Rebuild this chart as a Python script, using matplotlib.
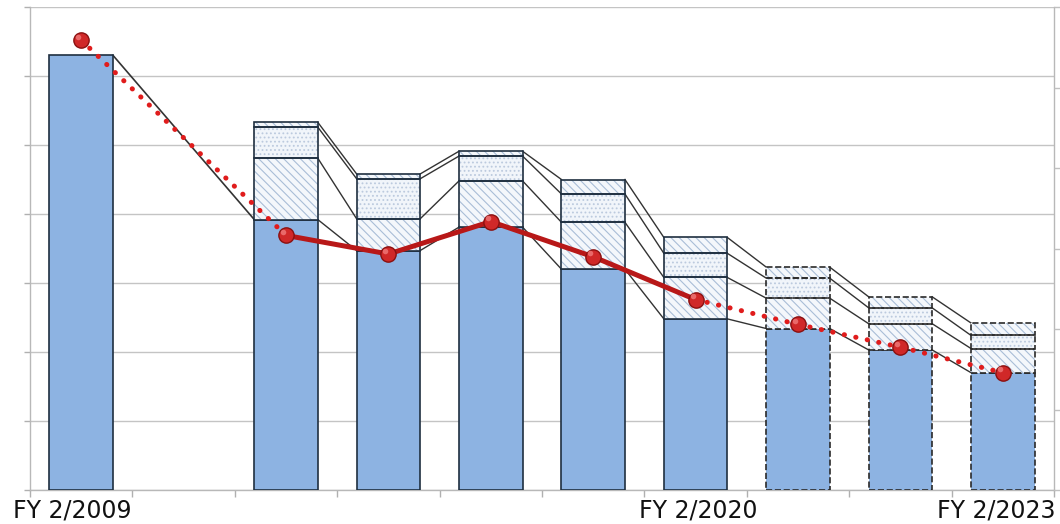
import numpy as np
import matplotlib
matplotlib.use("Agg")
import matplotlib.pyplot as plt
import matplotlib.transforms as mtransforms

# ---- data (y in gridline units) ----
slots = list(range(10))
tick_labels = ["FY 2/2009", "", "", "", "", "", "FY 2/2020", "", "", "FY 2/2023"]
base = [6.30, np.nan, 3.92, 3.47, 3.81, 3.20, 2.48, 2.34, 2.03, 1.70]
layer_a = [0, np.nan, 0.89, 0.46, 0.67, 0.68, 0.60, 0.44, 0.38, 0.35]
layer_b = [0, np.nan, 0.45, 0.58, 0.36, 0.41, 0.35, 0.29, 0.23, 0.19]
layer_c = [0, np.nan, 0.07, 0.07, 0.07, 0.21, 0.23, 0.16, 0.16, 0.18]
line_vals = [6.52, np.nan, 3.69, 3.42, 3.89, 3.38, 2.76, 2.40, 2.07, 1.70]
forecast = [False, False, False, False, False, False, False, True, True, True]

plt.rcParams['hatch.linewidth'] = 0.8

fig = plt.figure(figsize=(10.6, 5.24), dpi=100)
ax = fig.add_axes([30/1060, 34/524, 1024/1060, 483/524])

W = 0.62
blue = '#8db3e2'
edge_solid = '#1f2f40'
layers = [
    (layer_a, '#f4f7fb', '#a9bdd7', '\\\\\\\\'),
    (layer_b, '#f1f5fa', '#bccade', '....'),
    (layer_c, '#f4f7fb', '#a9bdd7', '\\\\\\\\'),
]

valid = [i for i in slots if not np.isnan(base[i])]
bounds = {}
for i in valid:
    ls = '--' if forecast[i] else '-'
    ec = '#2a2a2a' if forecast[i] else edge_solid
    b = base[i]
    tops = [b]
    ax.bar(i, b, width=W, color=blue, edgecolor=ec, linewidth=1.2, linestyle=ls, zorder=3)
    bottom = b
    for vals, fc, hc, h in layers:
        hgt = vals[i]
        if hgt > 0:
            ax.bar(i, hgt, bottom=bottom, width=W, color=fc, edgecolor=hc, hatch=h,
                   linewidth=0, zorder=3)
            ax.bar(i, hgt, bottom=bottom, width=W, fill=False, edgecolor=ec,
                   linewidth=1.2, linestyle=ls, zorder=3.5)
        bottom += hgt
        tops.append(bottom)
    bounds[i] = tops

# connector (series) lines
for k in range(len(valid) - 1):
    i, j = valid[k], valid[k + 1]
    if j - i > 1:
        ax.plot([i + W/2, j - W/2], [bounds[i][0], bounds[j][0]], color='#333333', lw=1.2, zorder=2.5)
        continue
    for t0, t1 in zip(bounds[i], bounds[j]):
        ax.plot([i + W/2, j - W/2], [t0, t1], color='#333333', lw=1.0, zorder=2.5)

# line series
lx = np.array(slots, dtype=float)
ly = np.array(line_vals, dtype=float)
solid_idx = [2, 3, 4, 5, 6]
ax.plot(lx[solid_idx], ly[solid_idx], color='#b81818', lw=3.6, zorder=5, solid_capstyle='round')
for seg in ([0, 2], [6, 7, 8, 9]):
    ax.plot(lx[seg], ly[seg], color='#e01c1c', lw=3.6, linestyle=(0, (0.05, 2.3)),
            dash_capstyle='round', zorder=5)
pts = [i for i in slots if not np.isnan(line_vals[i])]
ax.plot(lx[pts], ly[pts], linestyle='none', marker='o', markersize=11,
        markerfacecolor='#d02828', markeredgecolor='#8a1010', markeredgewidth=1.0, zorder=6)
ax.plot(lx[pts] - 0.03, ly[pts] + 0.05, linestyle='none', marker='o', markersize=4,
        markerfacecolor='#f07a7a', markeredgewidth=0, alpha=0.8, zorder=6.5)

# axes styling
ax.set_xlim(-0.5, 9.5)
ax.set_ylim(0, 7)
ax.set_yticks(range(8))
ax.set_yticklabels([])
ax.yaxis.grid(True, color='#c4c4c4', lw=1.0)
ax.set_axisbelow(True)
for s in ['left', 'bottom', 'right']:
    ax.spines[s].set_color('#b8b8b8')
    ax.spines[s].set_linewidth(1.0)
ax.spines['top'].set_visible(False)
ax.tick_params(axis='y', direction='out', length=4, color='#b0b0b0', width=1)

ax.set_xticks(slots)
ax.set_xticklabels(tick_labels, fontsize=17, fontfamily='DejaVu Sans', color='#111111')
ax.set_xticks(np.arange(-0.5, 10, 1), minor=True)
ax.tick_params(axis='x', which='major', length=0, pad=6)
ax.tick_params(axis='x', which='minor', direction='out', length=5, color='#b0b0b0', width=1)
shifts = {0: -9, 6: 3, 9: -7}
for idx, lab in enumerate(ax.get_xticklabels()):
    if idx in shifts:
        lab.set_transform(lab.get_transform() + mtransforms.ScaledTranslation(shifts[idx]/100, 0, fig.dpi_scale_trans))

ax2 = ax.twinx()
ax2.set_ylim(0, 6)
ax2.set_yticks(range(7))
ax2.set_yticklabels([])
ax2.tick_params(axis='y', direction='out', length=4, color='#c0c0c0', width=1)
for s in ax2.spines.values():
    s.set_visible(False)

fig.savefig('out.png', dpi=100)
